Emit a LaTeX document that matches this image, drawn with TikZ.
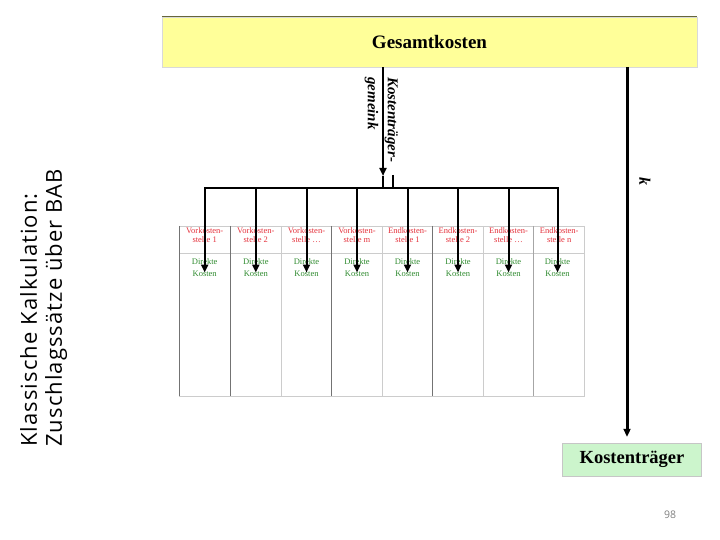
\documentclass[tikz,border=0pt]{standalone}
\usepackage{fontspec}
\setmainfont{Liberation Serif}
\newfontfamily\slidefont{Open Sans}
\newfontfamily\titlefont[LetterSpace=5]{Open Sans}
\usetikzlibrary{arrows.meta}

\definecolor{boxyellow}{HTML}{FFFF99}
\definecolor{boxgreen}{HTML}{CCF5CC}
\definecolor{hdrred}{HTML}{E4323C}
\definecolor{dkgreen}{HTML}{2E8A2E}
\definecolor{olivedark}{HTML}{66663A}

\begin{document}
\begin{tikzpicture}[x=1pt, y=-1pt,
    costbox/.style={inner sep=0pt, font=\bfseries\fontsize{19}{19}\selectfont},
    hdr/.style={align=center, text=hdrred, inner sep=0pt,
                font=\fontsize{8.5}{9.5}\selectfont},
    dk/.style={align=center, text=dkgreen, inner sep=0pt,
               font=\fontsize{8.5}{11.5}\selectfont},
    arr/.style={line width=2pt, -{Triangle[length=8pt,width=7pt]}},
    bar/.style={line width=2pt},
    grid/.style={gray!40, line width=0.8pt},
    gridd/.style={gray!90!black, line width=0.9pt}
]
\useasboundingbox (0,0) rectangle (720,540);

% Titel (gedreht)
\node[rotate=90, anchor=north west, align=left, inner sep=0pt,
      font=\titlefont\fontsize{22}{25}\selectfont] (title) at (20,447)
      {Klassische Kalkulation:\\Zuschlagssätze über BAB};

% Boxen oben und unten
\node[costbox, fill=boxyellow, draw=gray!30, minimum width=535pt, minimum height=50pt]
      (gesamt) at (429.5,42) {Gesamtkosten};
\draw[olivedark, line width=1.2pt] (gesamt.north west) -- (gesamt.north east);
\node[costbox, fill=boxgreen, draw=gray!45, minimum width=139pt, minimum height=33pt,
      font=\bfseries\fontsize{18.5}{18.5}\selectfont] (traeger) at (632,459.5) {Kostenträger};

% Tabelle (BAB)
\draw[grid] (179,226) -- (584.7,226);
\draw[grid] (179,253) -- (584.7,253);
\draw[grid] (179,396) -- (584.7,396);
\draw[gridd] (179,226) -- (179,396);
\draw[gridd] (230.3,226) -- (230.3,396);
\draw[grid] (281.3,226) -- (281.3,396);
\draw[gridd] (331.7,226) -- (331.7,396);
\draw[grid] (382.3,226) -- (382.3,396);
\draw[gridd] (432.7,226) -- (432.7,396);
\draw[grid] (483.3,226) -- (483.3,396);
\draw[gray!70, line width=1.5pt] (533.7,226) -- (533.7,396);
\draw[grid] (584.7,226) -- (584.7,396);

% Kostenstellen
\node[hdr] (vk1) at (204.7,235) {Vorkosten-\\stelle 1};
\node[hdr] (vk2) at (255.8,235) {Vorkosten-\\stelle 2};
\node[hdr] (vk3) at (306.5,235) {Vorkosten-\\stelle …};
\node[hdr] (vk4) at (357,235)   {Vorkosten-\\stelle m};
\node[hdr] (ek1) at (407.5,235) {Endkosten-\\stelle 1};
\node[hdr] (ek2) at (458,235)   {Endkosten-\\stelle 2};
\node[hdr] (ek3) at (508.5,235) {Endkosten-\\stelle …};
\node[hdr] (ek4) at (559.2,235) {Endkosten-\\stelle n};

\node[dk] (dk1) at (204.7,267.5) {Direkte\\Kosten};
\node[dk] (dk2) at (255.8,267.5) {Direkte\\Kosten};
\node[dk] (dk3) at (306.5,267.5) {Direkte\\Kosten};
\node[dk] (dk4) at (357,267.5)   {Direkte\\Kosten};
\node[dk] (dk5) at (407.5,267.5) {Direkte\\Kosten};
\node[dk] (dk6) at (458,267.5)   {Direkte\\Kosten};
\node[dk] (dk7) at (508.5,267.5) {Direkte\\Kosten};
\node[dk] (dk8) at (557.5,267.5) {Direkte\\Kosten};

% Kostenträgergemeinkosten -> Verteilung
\coordinate (barL) at (dk1 |- 0,188);
\coordinate (barR) at (dk8 |- 0,188);
\coordinate (mainTip) at (383,176);
\coordinate (stub) at (393,175);
\draw[arr] (gesamt.south -| mainTip) -- (mainTip);
\draw[bar] (mainTip) -- (mainTip |- barL);
\draw[bar] (stub) -- (stub |- barL);
\draw[bar, line cap=rect] (barL) -- (barR);
\node[rotate=-90, anchor=north west, align=left, inner sep=0pt,
      font=\bfseries\itshape\fontsize{15}{20}\selectfont] (kgk) at (398,77)
      {Kostenträger-\\gemeink};

\draw[arr] (barL) -- ([yshift=-5pt]dk1.center);
\draw[arr] (dk2 |- barL) -- ([yshift=-5pt]dk2.center);
\draw[arr] (dk3 |- barL) -- ([yshift=-5pt]dk3.center);
\draw[arr] (dk4 |- barL) -- ([yshift=-5pt]dk4.center);
\draw[arr] (dk5 |- barL) -- ([yshift=-5pt]dk5.center);
\draw[arr] (dk6 |- barL) -- ([yshift=-5pt]dk6.center);
\draw[arr] (dk7 |- barL) -- ([yshift=-5pt]dk7.center);
\draw[arr] (barR) -- ([yshift=-5pt]dk8.center);

% Einzelkosten direkt auf Kostenträger
\coordinate (rtop) at (627,67);
\draw[line width=3pt, -{Triangle[length=8pt,width=7pt]}] (rtop) -- (rtop |- traeger.north) [shorten >=6pt];
\node[rotate=-90, inner sep=0pt, font=\bfseries\itshape\fontsize{16}{16}\selectfont]
      (kk) at (645,182) {k};

% Seitenzahl
\node[font=\slidefont\fontsize{10.5}{10.5}\selectfont, text=gray] (pnum) at (670,515) {98};
\end{tikzpicture}
\end{document}
